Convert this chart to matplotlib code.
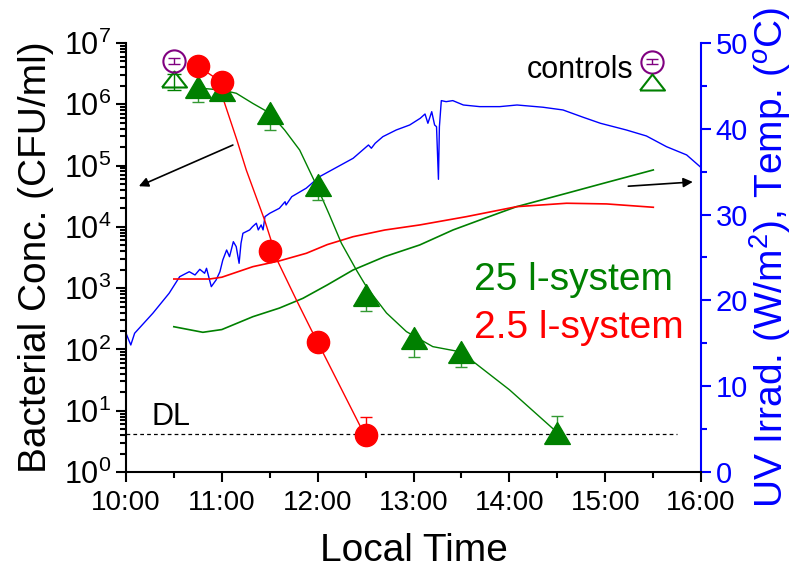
import numpy as np
import matplotlib
matplotlib.use('Agg')
from matplotlib import pyplot as plt
from matplotlib.ticker import FixedLocator, MultipleLocator, LogLocator, NullFormatter

plt.rcParams['font.family'] = ['Liberation Sans', 'DejaVu Sans']
plt.rcParams['mathtext.fontset'] = 'custom'
plt.rcParams['mathtext.rm'] = 'Liberation Sans'
plt.rcParams['mathtext.it'] = 'Liberation Sans:italic'

# sampling times (decimal hours) and bacterial counts (CFU/ml)
t_25l = [10.75, 11.0, 11.5, 12.0, 12.5, 13.0, 13.5, 14.5]
c_25l = [1.9e6, 1.7e6, 7.1e5, 4.8e4, 770, 152, 92, 4.3]
c_25l_lo = [0.83e6, 0.5e6, 3.3e5, 2.1e4, 343, 76, 41, 0]
c_25l_hi = [0, 0, 0, 0, 0, 0, 0, 3.9]

t_2l = [10.75, 11.0, 11.5, 12.0, 12.5]
c_2l = [4.2e6, 2.3e6, 4.0e3, 134, 4.0]
c_2l_hi = [0, 0, 0, 0, 4.0]

# inactivation model curves
fit_25l_t = [10.747, 10.997, 11.151, 11.324, 11.499, 11.655, 11.812, 11.986, 12.12,
             12.248, 12.404, 12.509, 12.718, 12.926, 13.201, 13.493, 14.0, 14.493]
fit_25l_c = [1.84e6, 1.71e6, 1.51e6, 1.03e6, 7.2e5, 3.8e5, 1.79e5, 4.8e4, 1.6e4,
             5.38e3, 1.97e3, 1.05e3, 393, 195, 111, 91, 22, 4.5]
fit_2l_t = [10.747, 10.997, 11.018, 11.157, 11.255, 11.446, 11.585, 11.778, 11.934,
            11.997, 12.491]
fit_2l_c = [4.2e6, 2.3e6, 1.17e6, 2.61e5, 8.45e4, 1.29e4, 2.70e3, 640, 207, 134, 4.0]

# dark controls
ctrl_t = 10.5
ctrl_circle = 5.1e6
ctrl_tri = 2.6e6

detection_limit = 4.1

# water temperature (degC)
temp_25l_t = [10.499, 10.802, 11.0, 11.324, 11.6, 11.846, 12.1, 12.369, 12.7, 13.065,
              13.413, 13.75, 14.075, 14.597, 15.0, 15.502]
temp_25l = [16.93, 16.28, 16.6, 18.10, 19.1, 20.24, 21.8, 23.54, 25.1, 26.46,
            28.21, 29.6, 30.92, 32.48, 33.7, 35.20]
temp_2l_t = [10.499, 10.872, 11.0, 11.324, 11.6, 11.882, 12.1, 12.369, 12.7, 13.065,
             13.553, 14.075, 14.597, 15.015, 15.502]
temp_2l = [22.49, 22.49, 22.7, 23.93, 24.6, 25.49, 26.5, 27.42, 28.2, 28.79,
           29.76, 30.92, 31.32, 31.24, 30.85]

# UV irradiance (W/m2)
uv_t = [10.00, 10.05, 10.09, 10.28, 10.45, 10.56, 10.66, 10.72, 10.77, 10.82, 10.84,
        10.89, 10.94, 10.98, 11.01, 11.05, 11.08, 11.12, 11.15, 11.18, 11.20, 11.22,
        11.29, 11.32, 11.36, 11.38, 11.41, 11.43, 11.45, 11.50, 11.60, 11.66, 11.67,
        11.73, 11.88, 12.02, 12.37, 12.53, 12.56, 12.60, 12.68, 12.82, 12.96, 13.07,
        13.12, 13.15, 13.19, 13.22, 13.24, 13.26, 13.27, 13.29, 13.34, 13.41, 13.52,
        13.69, 13.90, 14.08, 14.35, 14.56, 14.77, 14.95, 15.22, 15.43, 15.64, 15.85,
        15.99]
uv = [16.17, 14.80, 16.17, 18.50, 20.83, 22.76, 23.34, 22.96, 23.62, 23.16, 23.74,
      21.60, 22.38, 23.34, 24.71, 25.87, 25.09, 26.84, 26.26, 24.32, 26.66, 27.82,
      28.21, 28.59, 28.99, 28.21, 28.79, 28.21, 29.76, 30.15, 30.73, 31.50, 31.12,
      32.09, 33.07, 34.42, 36.56, 38.11, 37.73, 38.31, 39.08, 39.86, 40.44, 41.22,
      41.72, 40.64, 41.99, 40.44, 40.24, 34.11, 40.24, 43.28, 43.16, 43.28, 42.77,
      42.58, 42.58, 42.77, 42.51, 42.19, 41.34, 40.64, 39.86, 39.16, 37.91, 36.95,
      35.58]

hour_ticks = [10, 11, 12, 13, 14, 15, 16]
hour_labels = ['10:00', '11:00', '12:00', '13:00', '14:00', '15:00', '16:00']

RED = '#ff0000'
GREEN = '#008000'
BLUE = '#0000ff'
PURPLE = '#800080'

tri = [(-1, -0.85), (1, -0.85), (0, 0.85), (-1, -0.85)]
flat_tri = [(-1, -0.64), (1, -0.64), (0, 0.64), (-1, -0.64)]

fig = plt.figure(figsize=(7.96, 5.69), dpi=100)
ax = fig.add_axes([0.1583, 0.1705, 0.7224, 0.7540])
ax2 = ax.twinx()
ax.set_zorder(ax2.get_zorder() + 1)
ax.patch.set_visible(False)

# right axis: temperatures and UV
ax2.plot(uv_t, uv, color=BLUE, lw=1.0)
ax2.plot(temp_25l_t, temp_25l, color=GREEN, lw=1.2)
ax2.plot(temp_2l_t, temp_2l, color=RED, lw=1.2)
ax2.set_ylim(0, 50)
ax2.yaxis.set_major_locator(MultipleLocator(10))
ax2.yaxis.set_minor_locator(MultipleLocator(5))
ax2.tick_params(axis='y', which='both', direction='out', colors=BLUE, labelsize=21,
                width=1.5)
ax2.tick_params(axis='y', which='major', length=7)
ax2.tick_params(axis='y', which='minor', length=4)
for s in ['top', 'left', 'bottom']:
    ax2.spines[s].set_visible(False)
ax2.spines['right'].set_color(BLUE)
ax2.spines['right'].set_linewidth(1.5)
ax2.set_ylabel('UV Irrad. (W/m$^2$), Temp. ($^o$C)', color=BLUE, fontsize=28)
ax2.yaxis.set_label_coords(1.08, 0.5)

# left axis: bacteria
ax.plot(fit_2l_t, fit_2l_c, color=RED, lw=1.0)
ax.plot(fit_25l_t, fit_25l_c, color=GREEN, lw=1.0)
ax.axhline(detection_limit, xmin=0, xmax=5.75 / 6, color='k', lw=0.9, ls=(0, (3, 2.5)))

ax.errorbar(t_25l, c_25l, yerr=[c_25l_lo, c_25l_hi], fmt='none', ecolor='#339933',
            elinewidth=1.0, capsize=4, capthick=1.0)
ax.plot(t_25l, c_25l, ls='none', marker=tri, ms=18.5, color=GREEN, mec=GREEN)
ax.errorbar(t_2l, c_2l, yerr=[[0] * len(c_2l), c_2l_hi], fmt='none', ecolor=RED,
            elinewidth=1.0, capsize=4, capthick=1.0)
ax.plot(t_2l, c_2l, ls='none', marker='o', ms=16, color=RED, mec=RED)

# controls
ax.errorbar([ctrl_t], [ctrl_tri], yerr=[[0.9e6], [0.5e6]], fmt='none', ecolor=GREEN,
            elinewidth=1.0, capsize=5, capthick=1.0)
ax.plot([ctrl_t], [ctrl_tri], ls='none', marker=flat_tri, ms=18, mfc='none',
        mec=GREEN, mew=1.5)
ax.errorbar([ctrl_t], [ctrl_circle], yerr=[[0.5e6], [0.5e6]], fmt='none',
            ecolor=PURPLE, elinewidth=1.0, capsize=4, capthick=1.0)
ax.plot([ctrl_t], [ctrl_circle], ls='none', marker='o', ms=16, mfc='none',
        mec=PURPLE, mew=1.5)

# key symbols next to the "controls" label
key_t = 15.49
ax.errorbar([key_t], [4.93e6], yerr=[[0.45e6], [0.45e6]], fmt='none', ecolor=PURPLE,
            elinewidth=1.0, capsize=4, capthick=1.0)
ax.plot([key_t], [4.93e6], ls='none', marker='o', ms=16, mfc='none', mec=PURPLE, mew=1.5)
ax.plot([key_t], [2.33e6], ls='none', marker=flat_tri, ms=18, mfc='none', mec=GREEN,
        mew=1.5)
ax.text(0.8816, 0.937, 'controls', transform=ax.transAxes, ha='right', va='center',
        fontsize=22)

ax.text(0.605, 0.4476, '25 l-system', transform=ax.transAxes, ha='left', va='center',
        fontsize=28, color=GREEN)
ax.text(0.605, 0.3357, '2.5 l-system', transform=ax.transAxes, ha='left', va='center',
        fontsize=28, color=RED)
ax.text(0.079, 0.127, 'DL', transform=ax.transAxes, ha='center', va='center',
        fontsize=22)

# arrows pointing to the relevant axes
ax.annotate('', xy=(10.134, 4.6e4), xytext=(11.115, 2.16e5),
            arrowprops=dict(arrowstyle='-|>', color='k', lw=1.2, mutation_scale=14,
                            shrinkA=0, shrinkB=0))
ax.annotate('', xy=(15.914, 5.4e4), xytext=(15.241, 4.6e4),
            arrowprops=dict(arrowstyle='-|>', color='k', lw=1.2, mutation_scale=14,
                            shrinkA=0, shrinkB=0))

ax.set_yscale('log')
ax.set_ylim(1, 1e7)
ax.set_xlim(10, 16)
ax.yaxis.set_major_locator(LogLocator(base=10, numticks=10))
ax.yaxis.set_minor_locator(LogLocator(base=10, subs=np.arange(2, 10), numticks=20))
ax.yaxis.set_minor_formatter(NullFormatter())
ax.xaxis.set_major_locator(FixedLocator(hour_ticks))
ax.set_xticklabels(hour_labels)
ax.xaxis.set_minor_locator(MultipleLocator(0.5))
ax.tick_params(which='both', direction='out', width=1.5, labelsize=20)
ax.tick_params(axis='y', labelsize=22)
ax.tick_params(axis='x', pad=6)
ax.tick_params(which='major', length=7)
ax.tick_params(which='minor', length=4)
ax.spines['top'].set_visible(False)
ax.spines['right'].set_visible(False)
ax.spines['left'].set_linewidth(1.5)
ax.spines['bottom'].set_linewidth(1.5)

ax.set_xlabel('Local Time', fontsize=28)
ax.xaxis.set_label_coords(0.5, -0.142)
ax.set_ylabel('Bacterial Conc. (CFU/ml)', fontsize=28)
ax.yaxis.set_label_coords(-0.125, 0.5)

fig.savefig('out.png', dpi=100)
